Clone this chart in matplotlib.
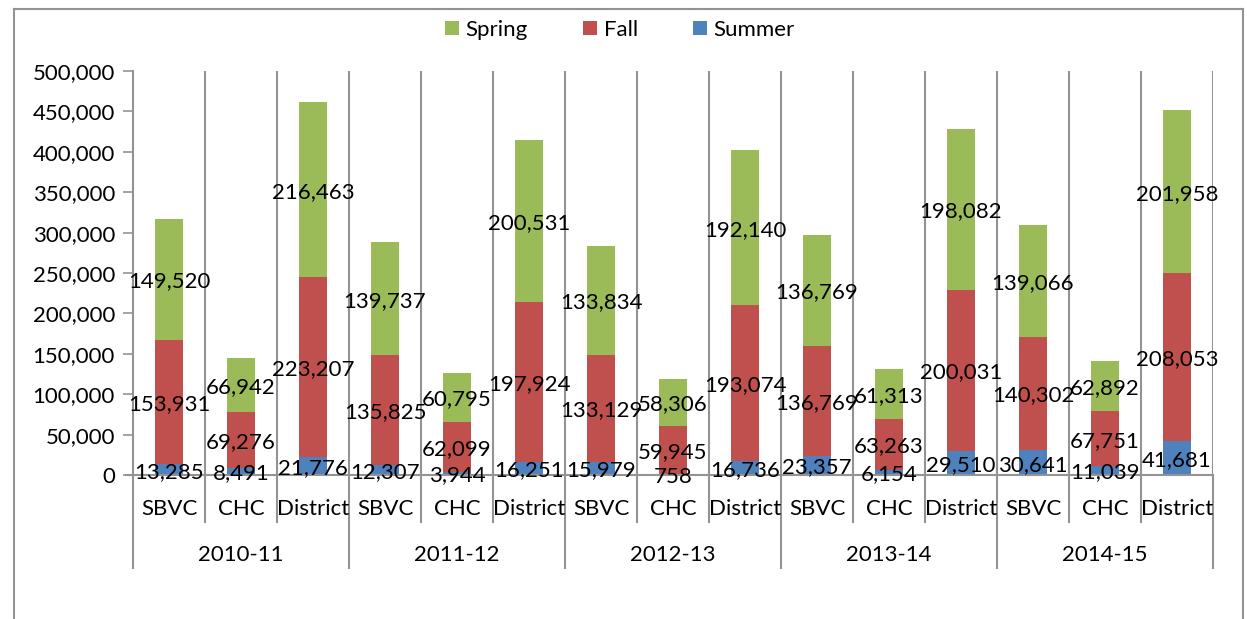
#!/usr/bin/env python3
"""Stacked term totals (Summer / Fall / Spring) by site and academic year."""

import matplotlib
matplotlib.use("Agg")
import matplotlib.pyplot as plt
import matplotlib.transforms as mtransforms
from matplotlib.lines import Line2D
from matplotlib.patches import Patch
import numpy as np

plt.rcParams["font.family"] = ["Lato", "DejaVu Sans"]

# ---------------------------------------------------------------------------
# Data
# ---------------------------------------------------------------------------

years = ["2010-11", "2011-12", "2012-13", "2013-14", "2014-15"]
sites = ["SBVC", "CHC", "District"]

summer = [13285, 8491, 21776, 12307, 3944, 16251, 15979, 758, 16736,
          23357, 6154, 29510, 30641, 11039, 41681]
fall = [153931, 69276, 223207, 135825, 62099, 197924, 133129, 59945, 193074,
        136769, 63263, 200031, 140302, 67751, 208053]
spring = [149520, 66942, 216463, 139737, 60795, 200531, 133834, 58306, 192140,
          136769, 61313, 198082, 139066, 62892, 201958]

y_ticks = [0, 50000, 100000, 150000, 200000, 250000, 300000, 350000, 400000, 450000, 500000]

SPRING_COLOR = "#9BBB59"
FALL_COLOR = "#C0504D"
SUMMER_COLOR = "#4F81BD"
LINE_COLOR = "#939393"

# ---------------------------------------------------------------------------
# Figure
# ---------------------------------------------------------------------------

W, H = 1247, 619
fig = plt.figure(figsize=(W / 100, H / 100), dpi=100)
ax = fig.add_axes([133 / W, (H - 475) / H, (1213 - 133) / W, (475 - 71) / H])

n = len(summer)
x = np.arange(n)
width = 0.38
summer_a = np.array(summer)
fall_a = np.array(fall)
spring_a = np.array(spring)

b_sum = ax.bar(x, summer_a, width, color=SUMMER_COLOR, zorder=2)
b_fall = ax.bar(x, fall_a, width, bottom=summer_a, color=FALL_COLOR, zorder=2)
b_spr = ax.bar(x, spring_a, width, bottom=summer_a + fall_a, color=SPRING_COLOR, zorder=2)

for cont, vals in ((b_sum, summer), (b_fall, fall), (b_spr, spring)):
    anns = ax.bar_label(cont, labels=[f"{v:,}" for v in vals], label_type="center",
                        fontsize=16, color="black", zorder=5)
    for a in anns:
        a.set_va("center_baseline")

ax.set_xlim(-0.5, n - 0.5)
ax.set_ylim(0, 500000)
ax.set_yticks(y_ticks)
ax.set_yticklabels([f"{t:,}" for t in y_ticks], fontsize=16)
ax.tick_params(axis="y", length=7, width=1.2, color=LINE_COLOR, pad=6)
ax.set_xticks([])

for side in ("top", "right"):
    ax.spines[side].set_visible(False)
for side in ("left", "bottom"):
    ax.spines[side].set_color(LINE_COLOR)
    ax.spines[side].set_linewidth(1.5)

# vertical category gridlines
for k in range(1, n + 1):
    ax.axvline(k - 0.5, color=LINE_COLOR, linewidth=1.5, zorder=1)

# zero tick extends a little left of axis
ax.plot([-0.6, -0.5], [0, 0], color=LINE_COLOR, linewidth=1.5, clip_on=False)

# multi-level category axis below plot
trans = mtransforms.blended_transform_factory(ax.transData, ax.transAxes)
px = 1 / (475 - 71)  # one pixel in axes fraction
for k in range(n + 1):
    depth = 568 if k % 3 == 0 else 522
    ax.plot([k - 0.5, k - 0.5], [0, -(depth - 475) * px], color=LINE_COLOR,
            linewidth=1.5, transform=trans, clip_on=False)

for i in range(n):
    ax.text(i, -(507 - 475) * px, sites[i % 3], transform=trans, ha="center",
            va="center_baseline", fontsize=16)
for g, yr in enumerate(years):
    ax.text(g * 3 + 1, -(553 - 475) * px, yr, transform=trans, ha="center",
            va="center_baseline", fontsize=16)

# legend
handles = [Patch(facecolor=SPRING_COLOR, label="Spring"),
           Patch(facecolor=FALL_COLOR, label="Fall"),
           Patch(facecolor=SUMMER_COLOR, label="Summer")]
fig.legend(handles=handles, loc="center", bbox_to_anchor=(620 / W, 1 - 30 / H),
           ncol=3, frameon=False, fontsize=16, handlelength=0.62, handleheight=0.62,
           handletextpad=0.3, columnspacing=2.5)

# outer chart frame
fx0, fx1, fy0 = 14 / W, 1243 / W, 1 - 9 / H
for xs, ys in (([fx0, fx0], [-0.05, fy0]), ([fx0, fx1], [fy0, fy0]), ([fx1, fx1], [fy0, -0.05])):
    fig.add_artist(Line2D(xs, ys, transform=fig.transFigure, color=LINE_COLOR, linewidth=1.5))

fig.savefig("out.png", dpi=100)
